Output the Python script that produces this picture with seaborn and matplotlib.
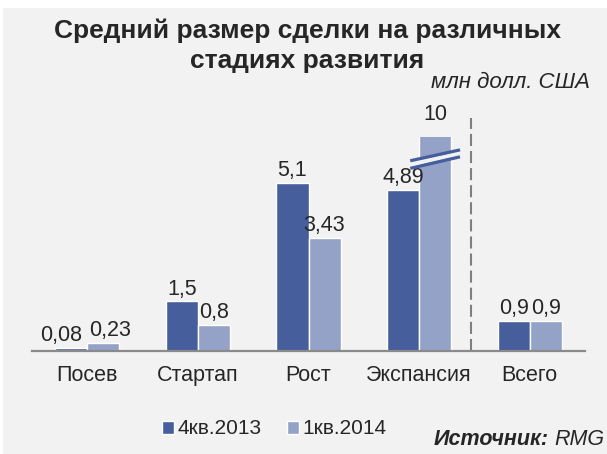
import matplotlib
matplotlib.use("Agg")
import matplotlib.pyplot as plt
import seaborn as sns
import pandas as pd
from matplotlib.patches import Rectangle, Polygon

stages = ["Посев", "Стартап", "Рост", "Экспансия", "Всего"]
periods = ["4кв.2013", "1кв.2014"]
q4_2013 = [0.08, 1.5, 5.1, 4.89, 0.9]
q1_2014 = [0.23, 0.8, 3.43, 10, 0.9]

colors = ["#465E9C", "#95A2C8"]
bg = "#F2F2F2"
y_cap = 6.48  # ось обрезана, столбец 10 показан с разрывом

df = pd.DataFrame({
    "stage": stages * 2,
    "period": [periods[0]] * len(stages) + [periods[1]] * len(stages),
    "value": q4_2013 + q1_2014,
})

sns.set_theme(style="white")
plt.rcParams["font.family"] = ["Liberation Sans", "DejaVu Sans"]

W, H = 607, 454
fig = plt.figure(figsize=(W / 100, H / 100), dpi=100, facecolor="white")
fig.patches.append(Rectangle((3 / W, 0), 1, 1 - 8 / H, transform=fig.transFigure,
                             facecolor=bg, edgecolor="none", zorder=-10))

ax = fig.add_axes([32 / W, (H - 351) / H, 553 / W, 214 / H])
ax.set_facecolor("none")

sns.barplot(data=df, x="stage", y="value", hue="period", order=stages, hue_order=periods,
            palette=colors, width=0.58, gap=0, saturation=1, legend=False, ax=ax)

ax.set_ylim(0, y_cap)
ax.set_xlim(-0.5, len(stages) - 0.5)

# подписи значений
shift = {(0, 0): -7, (0, 1): 5}
for h, cont in enumerate(ax.containers):
    for i, bar in enumerate(cont):
        val = bar.get_height()
        txt = f"{val:g}".replace(".", ",")
        y = min(val, y_cap)
        ax.annotate(txt, (bar.get_x() + bar.get_width() / 2, y),
                    xytext=(shift.get((i, h), 0), 5 if val < y_cap else 12),
                    textcoords="offset points", ha="center", va="baseline",
                    fontsize=15.5, annotation_clip=False)

# разрыв у столбца 10
big = ax.containers[1][3]
x0 = big.get_x() - 0.08
x1 = big.get_x() + big.get_width() + 0.08
ax.add_patch(Polygon([(x0, 5.57), (x1, 5.92), (x1, 6.05), (x0, 5.72)],
                     closed=True, facecolor=bg, edgecolor="none", zorder=5))
for ya, yb in [(5.53, 5.88), (5.76, 6.09)]:
    ax.plot([x0, x1], [ya, yb], color=colors[0], lw=2.3, zorder=6, solid_capstyle="butt")

# пунктир перед «Всего»
ax.axvline(3.47, ymin=0, ymax=(351 - 118) / 214, color="#7F7F7F", lw=1.5,
           ls=(0, (5.8, 2.4)), clip_on=False)

# оси
for s in ["left", "right", "top"]:
    ax.spines[s].set_visible(False)
ax.spines["bottom"].set_color("#8A8A8A")
ax.spines["bottom"].set_linewidth(1.6)
ax.set_yticks([])
ax.set_xticks([i - 0.5 for i in range(len(stages) + 1)])
ax.set_xticklabels([])
ax.set_xticks(range(len(stages)), minor=True)
ax.set_xticklabels(stages, minor=True, fontsize=15.5)
ax.tick_params(axis="x", which="major", direction="out", length=5, width=1.6, color="#8A8A8A")
ax.tick_params(axis="x", which="minor", length=0, pad=10)
ax.set_xlabel("")
ax.set_ylabel("")

fig.text(307 / W, 1 - 38 / H, "Средний размер сделки на различных",
         ha="center", va="baseline", fontsize=19, fontweight="bold")
fig.text(307 / W, 1 - 68 / H, "стадиях развития",
         ha="center", va="baseline", fontsize=19, fontweight="bold")
fig.text(590 / W, 1 - 88 / H, "млн долл. США", ha="right", va="baseline",
         fontsize=16, style="italic")

handles = [Rectangle((0, 0), 1, 1, facecolor=c) for c in colors]
fig.legend(handles, periods, loc="center", bbox_to_anchor=(274 / W, 1 - 429 / H),
           ncol=2, frameon=False, fontsize=15, handlelength=0.6, handleheight=0.6,
           handletextpad=0.15, columnspacing=1.2, borderpad=0, borderaxespad=0)

src = fig.text(604 / W, 1 - 445 / H, "RMG", ha="right", va="baseline",
               fontsize=15.5, style="italic")
fig.canvas.draw()
bb = src.get_window_extent()
fig.text((bb.x0 - 5) / W, 1 - 445 / H, "Источник:", ha="right", va="baseline",
         fontsize=15.5, style="italic", fontweight="bold")

fig.savefig("out.png", dpi=100, facecolor=fig.get_facecolor())
